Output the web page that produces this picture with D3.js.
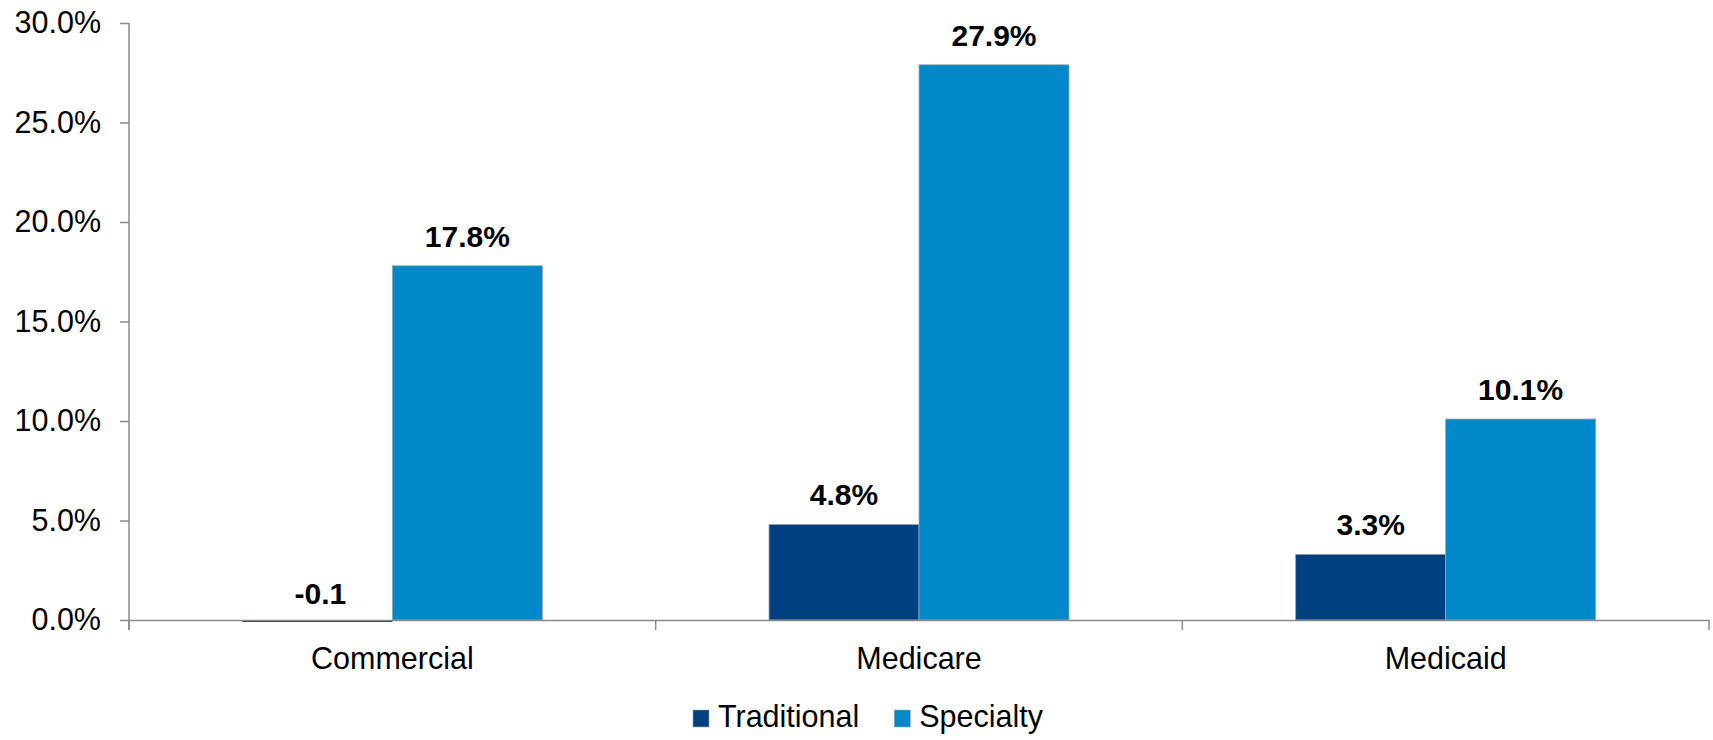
<!DOCTYPE html>
<html>
<head>
<meta charset="utf-8">
<script src="https://cdn.jsdelivr.net/npm/d3@7"></script>
<style>
  html, body { margin: 0; padding: 0; background: #fff; }
  svg { display: block; font-family: "Liberation Sans", Arial, sans-serif; }
</style>
</head>
<body>
<svg id="chart" width="1713" height="740"></svg>
<script>
// Growth by line of business, percent
const categories = ["Commercial", "Medicare", "Medicaid"];
const seriesNames = ["Traditional", "Specialty"];
const traditional = [-0.1, 4.8, 3.3];
const specialty = [17.8, 27.9, 10.1];
const yTicks = [0, 5, 10, 15, 20, 25, 30];

const colors = { Traditional: "#003f80", Specialty: "#0088c8" };
const axisColor = "#8a8a8a";

const width = 1713, height = 740;
const margin = { top: 23, right: 4, bottom: 120, left: 129 };

const svg = d3.select("#chart");

const x0 = d3.scaleBand()
  .domain(categories)
  .range([margin.left, width - margin.right])
  .paddingInner(0)
  .paddingOuter(0);

const x1 = d3.scaleBand()
  .domain(seriesNames)
  .range([0, x0.bandwidth()])
  .paddingOuter(0.7555)
  .paddingInner(0);

const y = d3.scaleLinear()
  .domain([0, 30])
  .range([height - margin.bottom, margin.top]);

const rows = categories.map((c, i) => ({
  category: c,
  values: [
    { series: "Traditional", value: traditional[i] },
    { series: "Specialty", value: specialty[i] }
  ]
}));

// Bars
const groups = svg.append("g")
  .selectAll("g")
  .data(rows)
  .join("g")
  .attr("transform", d => `translate(${x0(d.category)},0)`);

groups.selectAll("rect")
  .data(d => d.values)
  .join("rect")
  .attr("x", d => x1(d.series))
  .attr("width", x1.bandwidth())
  .attr("y", d => y(Math.max(0, d.value)))
  .attr("height", d => Math.abs(y(d.value) - y(0)))
  .attr("fill", d => colors[d.series])
  .attr("stroke", d => d.value < 0 ? "none" : "#9aa7b3")
  .attr("stroke-width", 0.8);

// Value labels (the negative one is printed without a percent sign)
const fmtLabel = v => v < 0 ? v.toFixed(1) : v.toFixed(1) + "%";
groups.selectAll("text.value")
  .data(d => d.values)
  .join("text")
  .attr("class", "value")
  .attr("x", d => x1(d.series) + x1.bandwidth() / 2 + (d.value < 0 ? 3 : 0))
  .attr("y", d => d.value < 0 ? y(0) - 16 : y(d.value) - 19)
  .attr("text-anchor", "middle")
  .attr("font-size", "30px")
  .attr("font-weight", "bold")
  .attr("fill", "#000")
  .text(d => fmtLabel(d.value));

// Y axis
const yAxis = svg.append("g")
  .attr("transform", `translate(${margin.left},0)`)
  .call(d3.axisLeft(y)
    .tickValues(yTicks)
    .tickSize(9)
    .tickSizeOuter(0)
    .tickPadding(19)
    .tickFormat(d => d.toFixed(1) + "%"));
yAxis.select(".domain").attr("stroke", axisColor).attr("stroke-width", 1.5)
  .attr("d", `M0,${y(30)}V${y(0) + 10}`);
yAxis.selectAll(".tick line").attr("stroke", axisColor).attr("stroke-width", 1.5);
yAxis.selectAll(".tick text").attr("font-size", "30.5px").attr("fill", "#000").attr("font-family", "Liberation Sans, Arial, sans-serif");

// X axis: category labels, tick marks at band boundaries
const xAxis = svg.append("g")
  .attr("transform", `translate(0,${y(0)})`)
  .call(d3.axisBottom(x0).tickSize(0).tickSizeOuter(0).tickPadding(27));
xAxis.select(".domain").attr("stroke", axisColor).attr("stroke-width", 1.5);
xAxis.selectAll(".tick text").attr("font-size", "30.5px").attr("fill", "#000").attr("font-family", "Liberation Sans, Arial, sans-serif");

const boundaries = categories.map(c => x0(c)).concat([x0(categories[categories.length - 1]) + x0.bandwidth()]);
xAxis.selectAll("line.boundary")
  .data(boundaries)
  .join("line")
  .attr("class", "boundary")
  .attr("x1", d => d).attr("x2", d => d)
  .attr("y1", 0).attr("y2", 10)
  .attr("stroke", axisColor)
  .attr("stroke-width", 1.5);

// Legend
const legend = svg.append("g").attr("transform", "translate(693,727)");
let cursor = 0;
seriesNames.forEach(name => {
  const item = legend.append("g").attr("transform", `translate(${cursor},0)`);
  item.append("rect")
    .attr("x", 0).attr("y", -17)
    .attr("width", 16).attr("height", 17)
    .attr("fill", colors[name])
    .attr("stroke", "#9aa7b3").attr("stroke-width", 0.6);
  const t = item.append("text")
    .attr("x", 25).attr("y", 0)
    .attr("font-size", "30.5px")
    .attr("fill", "#000")
    .text(name);
  cursor += 25 + t.node().getComputedTextLength() + 35;
});
</script>
</body>
</html>
